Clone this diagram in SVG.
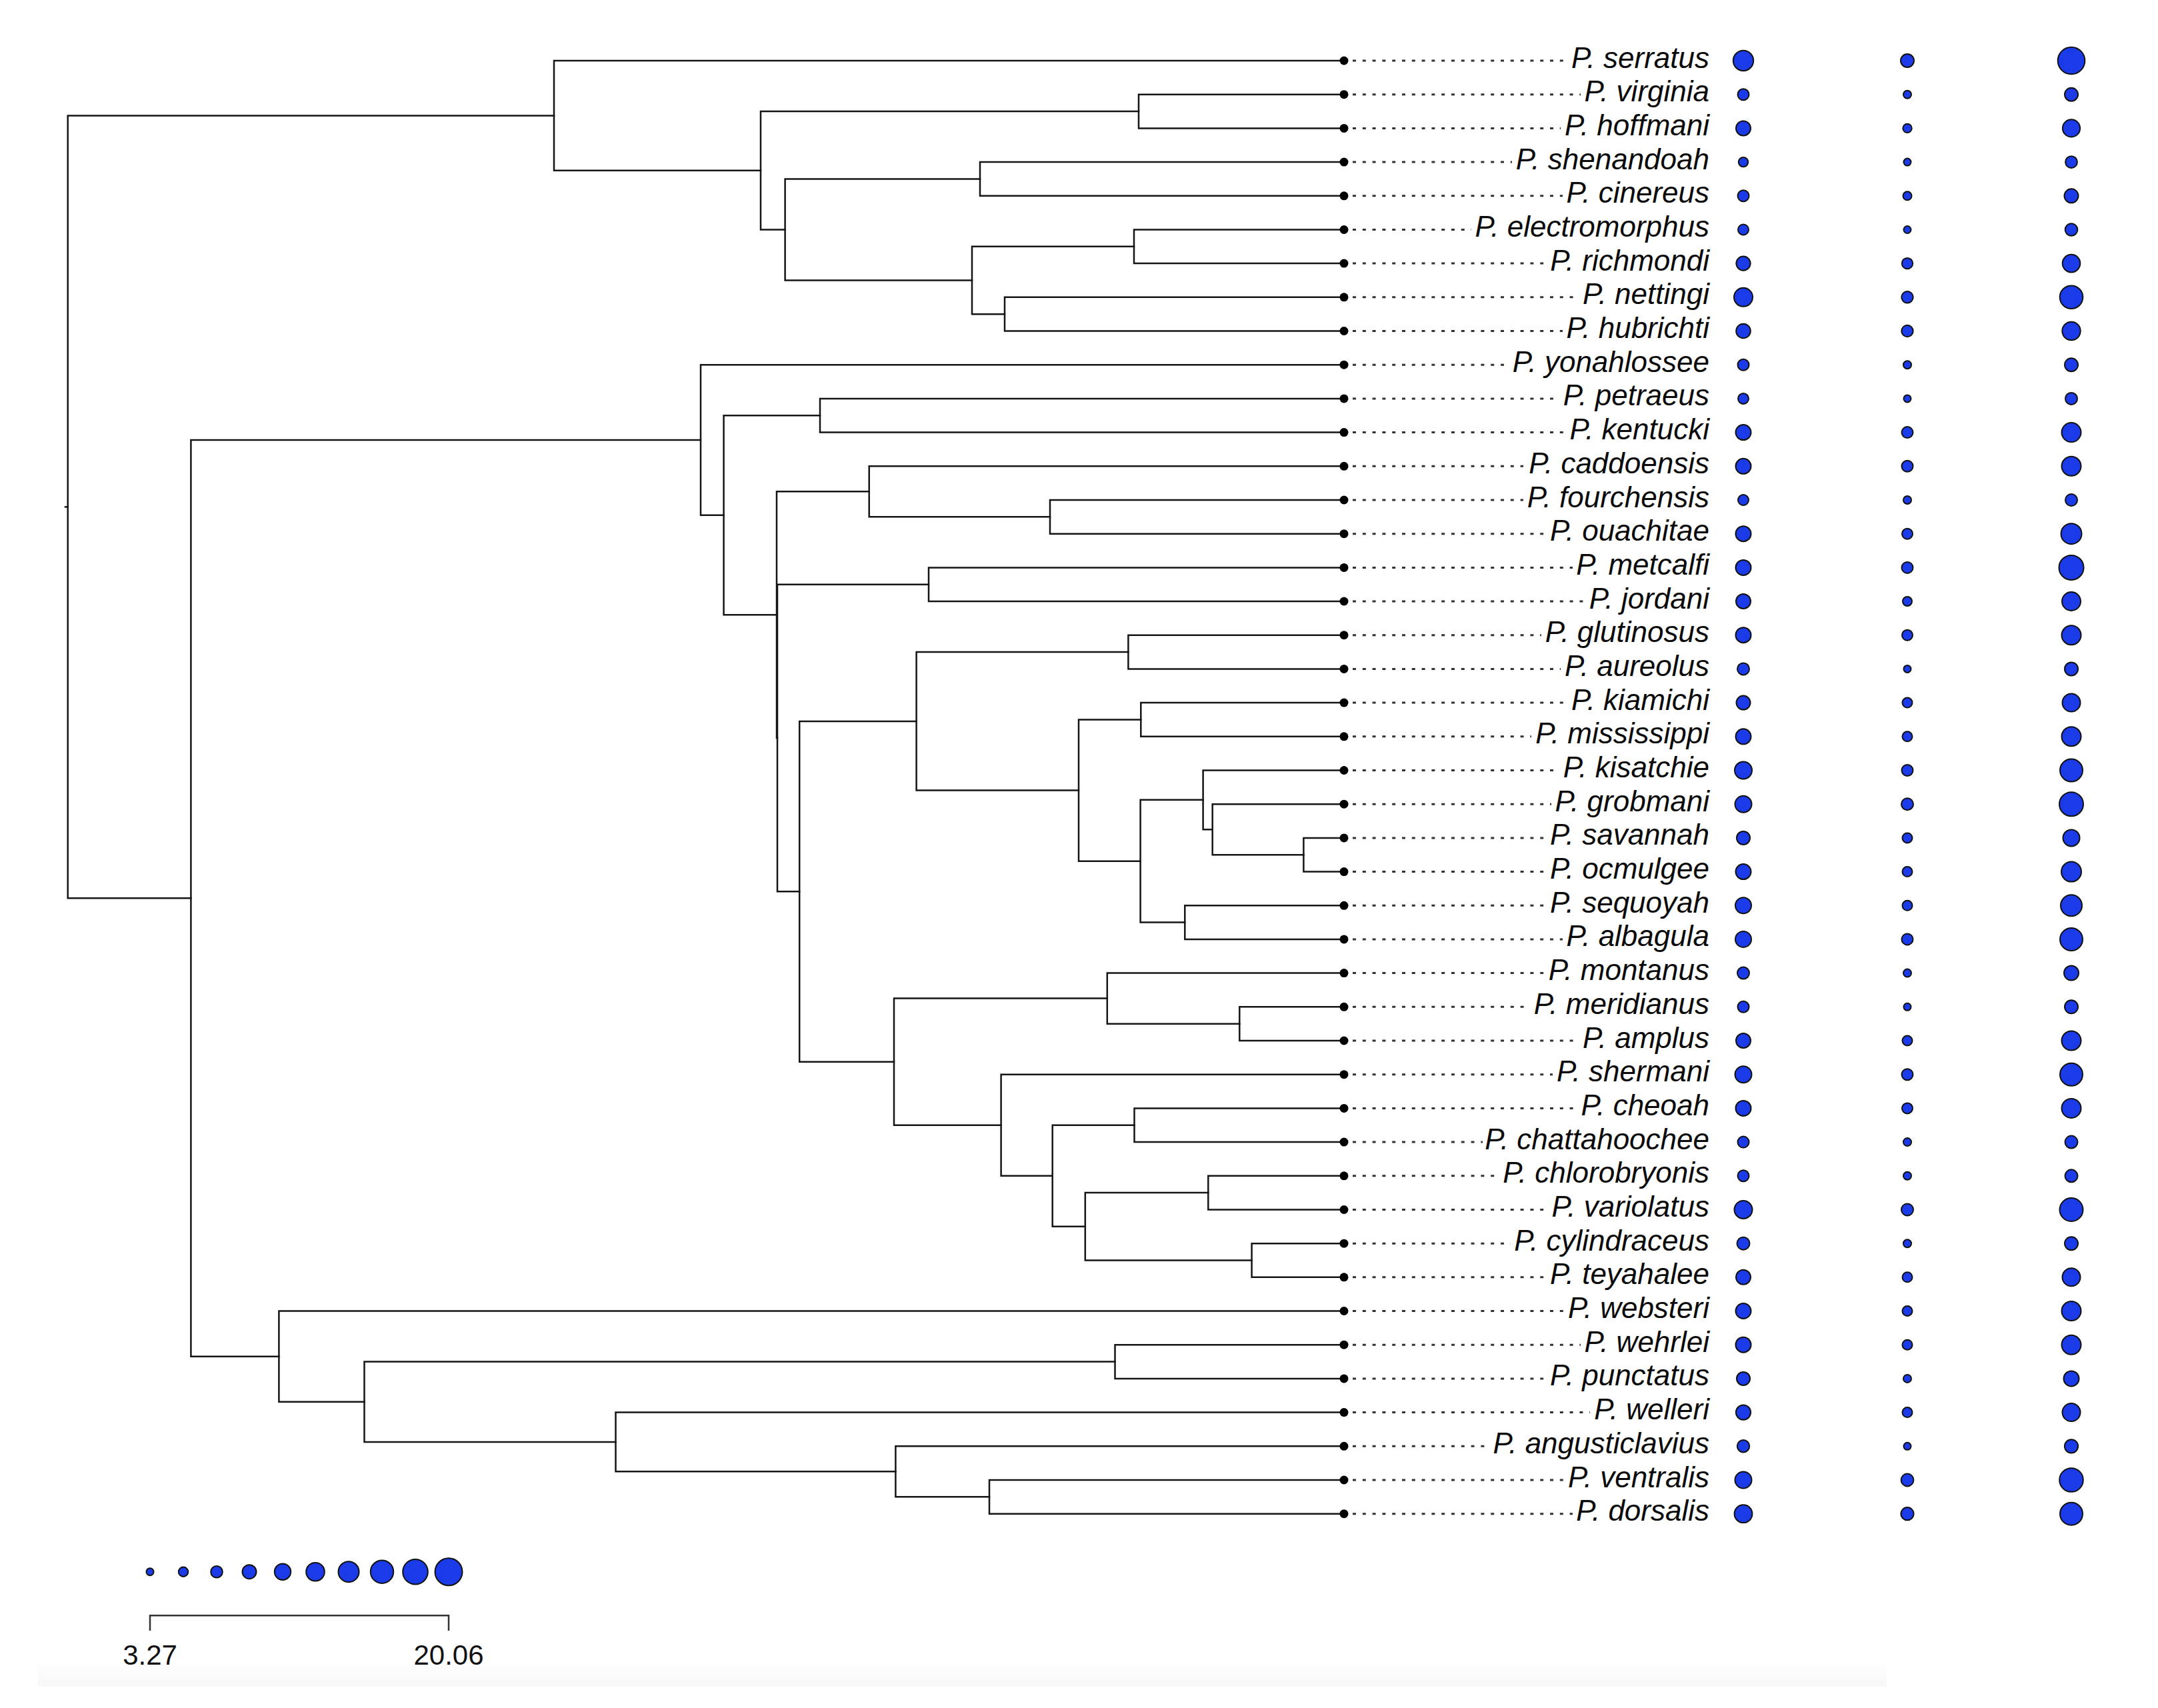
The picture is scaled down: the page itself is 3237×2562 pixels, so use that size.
<svg xmlns="http://www.w3.org/2000/svg" width="3237" height="2562" viewBox="0 0 3237 2562">
<style>
.br{fill:none;stroke:#151515;stroke-width:2.5;stroke-linecap:square}
.tip{fill:#000}
.lead{stroke:#333;stroke-width:3;stroke-dasharray:5 9.8}
.lab{font-family:"Liberation Sans",Arial,sans-serif;font-style:italic;font-size:44px;text-anchor:end;fill:#0a0a0a}
.dot{fill:#1c3be8;stroke:#111;stroke-width:2}
.sc{fill:none;stroke:#333;stroke-width:2.5}
.num{font-family:"Liberation Sans",Arial,sans-serif;font-size:42px;text-anchor:middle;fill:#111}
</style>
<defs>
<linearGradient id="band" x1="0" y1="0" x2="0" y2="1">
<stop offset="0" stop-color="#fdfdfd"/>
<stop offset="1" stop-color="#f8f8f8"/>
</linearGradient>
</defs>
<rect width="3237" height="2562" fill="#fff"/>
<rect x="57" y="2498" width="2773" height="32" fill="url(#band)"/>
<g id="connectors">
<path class="br" d="M98 760.4 H101.7"/>
<path class="br" d="M831 173.4 H101.7 V1347.3 H286.4"/>
<path class="br" d="M2016 91 H831 V255.7 H1141"/>
<path class="br" d="M1708 167 H1141 V344.4 H1177.6"/>
<path class="br" d="M2016 141.7 H1708 V192.4 H2016"/>
<path class="br" d="M1470 268.4 H1177.6 V420.5 H1458"/>
<path class="br" d="M2016 243.1 H1470 V293.8 H2016"/>
<path class="br" d="M1701 369.8 H1458 V471.2 H1507"/>
<path class="br" d="M2016 344.5 H1701 V395.1 H2016"/>
<path class="br" d="M2016 445.8 H1507 V496.5 H2016"/>
<path class="br" d="M1051 660 H286.4 V2034.7 H418.4"/>
<path class="br" d="M2016 547.2 H1051 V772.7 H1085.6"/>
<path class="br" d="M1230 623.2 H1085.6 V922.2 H1165"/>
<path class="br" d="M2016 597.9 H1230 V648.6 H2016"/>
<path class="br" d="M1303.7 737.3 H1165 V1107 H1166"/>
<path class="br" d="M2016 699.3 H1303.7 V775.3 H1575"/>
<path class="br" d="M2016 750 H1575 V800.7 H2016"/>
<path class="br" d="M1393 876.7 H1166 V1337.3 H1199.2"/>
<path class="br" d="M2016 851.4 H1393 V902 H2016"/>
<path class="br" d="M1374.6 1081.9 H1199.2 V1592.7 H1341"/>
<path class="br" d="M1692.4 978.1 H1374.6 V1185.6 H1618"/>
<path class="br" d="M2016 952.7 H1692.4 V1003.4 H2016"/>
<path class="br" d="M1711.3 1079.5 H1618 V1291.7 H1710.6"/>
<path class="br" d="M2016 1054.1 H1711.3 V1104.8 H2016"/>
<path class="br" d="M1804.6 1199.8 H1710.6 V1383.6 H1777.3"/>
<path class="br" d="M2016 1155.5 H1804.6 V1244.2 H1818.7"/>
<path class="br" d="M2016 1206.2 H1818.7 V1282.2 H1955.4"/>
<path class="br" d="M2016 1256.9 H1955.4 V1307.6 H2016"/>
<path class="br" d="M2016 1358.3 H1777.3 V1408.9 H2016"/>
<path class="br" d="M1660.8 1497.6 H1341 V1687.7 H1501.6"/>
<path class="br" d="M2016 1459.6 H1660.8 V1535.7 H1859.3"/>
<path class="br" d="M2016 1510.3 H1859.3 V1561 H2016"/>
<path class="br" d="M2016 1611.7 H1501.6 V1763.7 H1578.7"/>
<path class="br" d="M1701.5 1687.7 H1578.7 V1839.8 H1627.8"/>
<path class="br" d="M2016 1662.4 H1701.5 V1713.1 H2016"/>
<path class="br" d="M1812.3 1789.1 H1627.8 V1890.5 H1877.6"/>
<path class="br" d="M2016 1763.8 H1812.3 V1814.5 H2016"/>
<path class="br" d="M2016 1865.2 H1877.6 V1915.8 H2016"/>
<path class="br" d="M2016 1966.5 H418.4 V2102.8 H546.5"/>
<path class="br" d="M1672.5 2042.6 H546.5 V2163 H923.5"/>
<path class="br" d="M2016 2017.2 H1672.5 V2067.9 H2016"/>
<path class="br" d="M2016 2118.6 H923.5 V2207.3 H1343.4"/>
<path class="br" d="M2016 2169.3 H1343.4 V2245.3 H1484"/>
<path class="br" d="M2016 2220 H1484 V2270.7 H2016"/>
</g>
<g id="leaders">
<path class="lead" d="M2029 91 H2351"/>
<path class="lead" d="M2029 141.7 H2371"/>
<path class="lead" d="M2029 192.4 H2341"/>
<path class="lead" d="M2029 243.1 H2268"/>
<path class="lead" d="M2029 293.8 H2344"/>
<path class="lead" d="M2029 344.5 H2207"/>
<path class="lead" d="M2029 395.1 H2319"/>
<path class="lead" d="M2029 445.8 H2368"/>
<path class="lead" d="M2029 496.5 H2344"/>
<path class="lead" d="M2029 547.2 H2263"/>
<path class="lead" d="M2029 597.9 H2339"/>
<path class="lead" d="M2029 648.6 H2349"/>
<path class="lead" d="M2029 699.3 H2285"/>
<path class="lead" d="M2029 750 H2285"/>
<path class="lead" d="M2029 800.7 H2319"/>
<path class="lead" d="M2029 851.4 H2359"/>
<path class="lead" d="M2029 902 H2378"/>
<path class="lead" d="M2029 952.7 H2312"/>
<path class="lead" d="M2029 1003.4 H2341"/>
<path class="lead" d="M2029 1054.1 H2351"/>
<path class="lead" d="M2029 1104.8 H2297"/>
<path class="lead" d="M2029 1155.5 H2339"/>
<path class="lead" d="M2029 1206.2 H2327"/>
<path class="lead" d="M2029 1256.9 H2319"/>
<path class="lead" d="M2029 1307.6 H2319"/>
<path class="lead" d="M2029 1358.3 H2319"/>
<path class="lead" d="M2029 1408.9 H2344"/>
<path class="lead" d="M2029 1459.6 H2317"/>
<path class="lead" d="M2029 1510.3 H2295"/>
<path class="lead" d="M2029 1561 H2368"/>
<path class="lead" d="M2029 1611.7 H2329"/>
<path class="lead" d="M2029 1662.4 H2366"/>
<path class="lead" d="M2029 1713.1 H2224"/>
<path class="lead" d="M2029 1763.8 H2249"/>
<path class="lead" d="M2029 1814.5 H2322"/>
<path class="lead" d="M2029 1865.2 H2266"/>
<path class="lead" d="M2029 1915.8 H2319"/>
<path class="lead" d="M2029 1966.5 H2346"/>
<path class="lead" d="M2029 2017.2 H2371"/>
<path class="lead" d="M2029 2067.9 H2319"/>
<path class="lead" d="M2029 2118.6 H2385"/>
<path class="lead" d="M2029 2169.3 H2234"/>
<path class="lead" d="M2029 2220 H2346"/>
<path class="lead" d="M2029 2270.7 H2359"/>
</g>
<g id="taxa">
<g id="t-serratus"><circle class="tip" cx="2016" cy="91" r="6.5"/><text class="lab" x="2564" y="101.5">P. serratus</text><circle class="dot" cx="2615" cy="91" r="15.2"/><circle class="dot" cx="2861" cy="91" r="10"/><circle class="dot" cx="3107" cy="91" r="20.3"/></g>
<g id="t-virginia"><circle class="tip" cx="2016" cy="141.7" r="6.5"/><text class="lab" x="2564" y="152.2">P. virginia</text><circle class="dot" cx="2615" cy="141.7" r="8.5"/><circle class="dot" cx="2861" cy="141.7" r="6"/><circle class="dot" cx="3107" cy="141.7" r="10"/></g>
<g id="t-hoffmani"><circle class="tip" cx="2016" cy="192.4" r="6.5"/><text class="lab" x="2564" y="202.9">P. hoffmani</text><circle class="dot" cx="2615" cy="192.4" r="11"/><circle class="dot" cx="2861" cy="192.4" r="6.7"/><circle class="dot" cx="3107" cy="192.4" r="13.1"/></g>
<g id="t-shenandoah"><circle class="tip" cx="2016" cy="243.1" r="6.5"/><text class="lab" x="2564" y="253.6">P. shenandoah</text><circle class="dot" cx="2615" cy="243.1" r="7.2"/><circle class="dot" cx="2861" cy="243.1" r="5.5"/><circle class="dot" cx="3107" cy="243.1" r="8.9"/></g>
<g id="t-cinereus"><circle class="tip" cx="2016" cy="293.8" r="6.5"/><text class="lab" x="2564" y="304.3">P. cinereus</text><circle class="dot" cx="2615" cy="293.8" r="8.5"/><circle class="dot" cx="2861" cy="293.8" r="6.5"/><circle class="dot" cx="3107" cy="293.8" r="10.5"/></g>
<g id="t-electromorphus"><circle class="tip" cx="2016" cy="344.5" r="6.5"/><text class="lab" x="2564" y="355">P. electromorphus</text><circle class="dot" cx="2615" cy="344.5" r="8"/><circle class="dot" cx="2861" cy="344.5" r="5.5"/><circle class="dot" cx="3107" cy="344.5" r="9.3"/></g>
<g id="t-richmondi"><circle class="tip" cx="2016" cy="395.1" r="6.5"/><text class="lab" x="2564" y="405.6">P. richmondi</text><circle class="dot" cx="2615" cy="395.1" r="10.6"/><circle class="dot" cx="2861" cy="395.1" r="8.2"/><circle class="dot" cx="3107" cy="395.1" r="13.3"/></g>
<g id="t-nettingi"><circle class="tip" cx="2016" cy="445.8" r="6.5"/><text class="lab" x="2564" y="456.3">P. nettingi</text><circle class="dot" cx="2615" cy="445.8" r="14"/><circle class="dot" cx="2861" cy="445.8" r="8.7"/><circle class="dot" cx="3107" cy="445.8" r="17.3"/></g>
<g id="t-hubrichti"><circle class="tip" cx="2016" cy="496.5" r="6.5"/><text class="lab" x="2564" y="507">P. hubrichti</text><circle class="dot" cx="2615" cy="496.5" r="10.8"/><circle class="dot" cx="2861" cy="496.5" r="8.7"/><circle class="dot" cx="3107" cy="496.5" r="13.7"/></g>
<g id="t-yonahlossee"><circle class="tip" cx="2016" cy="547.2" r="6.5"/><text class="lab" x="2564" y="557.7">P. yonahlossee</text><circle class="dot" cx="2615" cy="547.2" r="8.5"/><circle class="dot" cx="2861" cy="547.2" r="6"/><circle class="dot" cx="3107" cy="547.2" r="10"/></g>
<g id="t-petraeus"><circle class="tip" cx="2016" cy="597.9" r="6.5"/><text class="lab" x="2564" y="608.4">P. petraeus</text><circle class="dot" cx="2615" cy="597.9" r="8"/><circle class="dot" cx="2861" cy="597.9" r="5.5"/><circle class="dot" cx="3107" cy="597.9" r="9"/></g>
<g id="t-kentucki"><circle class="tip" cx="2016" cy="648.6" r="6.5"/><text class="lab" x="2564" y="659.1">P. kentucki</text><circle class="dot" cx="2615" cy="648.6" r="11.5"/><circle class="dot" cx="2861" cy="648.6" r="8.5"/><circle class="dot" cx="3107" cy="648.6" r="14.5"/></g>
<g id="t-caddoensis"><circle class="tip" cx="2016" cy="699.3" r="6.5"/><text class="lab" x="2564" y="709.8">P. caddoensis</text><circle class="dot" cx="2615" cy="699.3" r="11.5"/><circle class="dot" cx="2861" cy="699.3" r="8.5"/><circle class="dot" cx="3107" cy="699.3" r="14.5"/></g>
<g id="t-fourchensis"><circle class="tip" cx="2016" cy="750" r="6.5"/><text class="lab" x="2564" y="760.5">P. fourchensis</text><circle class="dot" cx="2615" cy="750" r="8"/><circle class="dot" cx="2861" cy="750" r="6"/><circle class="dot" cx="3107" cy="750" r="9"/></g>
<g id="t-ouachitae"><circle class="tip" cx="2016" cy="800.7" r="6.5"/><text class="lab" x="2564" y="811.2">P. ouachitae</text><circle class="dot" cx="2615" cy="800.7" r="11.5"/><circle class="dot" cx="2861" cy="800.7" r="8"/><circle class="dot" cx="3107" cy="800.7" r="15.5"/></g>
<g id="t-metcalfi"><circle class="tip" cx="2016" cy="851.4" r="6.5"/><text class="lab" x="2564" y="861.9">P. metcalfi</text><circle class="dot" cx="2615" cy="851.4" r="11.5"/><circle class="dot" cx="2861" cy="851.4" r="8.5"/><circle class="dot" cx="3107" cy="851.4" r="18.5"/></g>
<g id="t-jordani"><circle class="tip" cx="2016" cy="902" r="6.5"/><text class="lab" x="2564" y="912.5">P. jordani</text><circle class="dot" cx="2615" cy="902" r="11"/><circle class="dot" cx="2861" cy="902" r="7"/><circle class="dot" cx="3107" cy="902" r="14"/></g>
<g id="t-glutinosus"><circle class="tip" cx="2016" cy="952.7" r="6.5"/><text class="lab" x="2564" y="963.2">P. glutinosus</text><circle class="dot" cx="2615" cy="952.7" r="11.5"/><circle class="dot" cx="2861" cy="952.7" r="8"/><circle class="dot" cx="3107" cy="952.7" r="14.5"/></g>
<g id="t-aureolus"><circle class="tip" cx="2016" cy="1003.4" r="6.5"/><text class="lab" x="2564" y="1013.9">P. aureolus</text><circle class="dot" cx="2615" cy="1003.4" r="9"/><circle class="dot" cx="2861" cy="1003.4" r="5.5"/><circle class="dot" cx="3107" cy="1003.4" r="10"/></g>
<g id="t-kiamichi"><circle class="tip" cx="2016" cy="1054.1" r="6.5"/><text class="lab" x="2564" y="1064.6">P. kiamichi</text><circle class="dot" cx="2615" cy="1054.1" r="10.5"/><circle class="dot" cx="2861" cy="1054.1" r="7.5"/><circle class="dot" cx="3107" cy="1054.1" r="13.5"/></g>
<g id="t-mississippi"><circle class="tip" cx="2016" cy="1104.8" r="6.5"/><text class="lab" x="2564" y="1115.3">P. mississippi</text><circle class="dot" cx="2615" cy="1104.8" r="11.5"/><circle class="dot" cx="2861" cy="1104.8" r="7.5"/><circle class="dot" cx="3107" cy="1104.8" r="14.5"/></g>
<g id="t-kisatchie"><circle class="tip" cx="2016" cy="1155.5" r="6.5"/><text class="lab" x="2564" y="1166">P. kisatchie</text><circle class="dot" cx="2615" cy="1155.5" r="13"/><circle class="dot" cx="2861" cy="1155.5" r="8.5"/><circle class="dot" cx="3107" cy="1155.5" r="17"/></g>
<g id="t-grobmani"><circle class="tip" cx="2016" cy="1206.2" r="6.5"/><text class="lab" x="2564" y="1216.7">P. grobmani</text><circle class="dot" cx="2615" cy="1206.2" r="12.5"/><circle class="dot" cx="2861" cy="1206.2" r="9"/><circle class="dot" cx="3107" cy="1206.2" r="18"/></g>
<g id="t-savannah"><circle class="tip" cx="2016" cy="1256.9" r="6.5"/><text class="lab" x="2564" y="1267.4">P. savannah</text><circle class="dot" cx="2615" cy="1256.9" r="10"/><circle class="dot" cx="2861" cy="1256.9" r="7.5"/><circle class="dot" cx="3107" cy="1256.9" r="12.5"/></g>
<g id="t-ocmulgee"><circle class="tip" cx="2016" cy="1307.6" r="6.5"/><text class="lab" x="2564" y="1318.1">P. ocmulgee</text><circle class="dot" cx="2615" cy="1307.6" r="11.5"/><circle class="dot" cx="2861" cy="1307.6" r="7.5"/><circle class="dot" cx="3107" cy="1307.6" r="15"/></g>
<g id="t-sequoyah"><circle class="tip" cx="2016" cy="1358.3" r="6.5"/><text class="lab" x="2564" y="1368.8">P. sequoyah</text><circle class="dot" cx="2615" cy="1358.3" r="12"/><circle class="dot" cx="2861" cy="1358.3" r="7.5"/><circle class="dot" cx="3107" cy="1358.3" r="16"/></g>
<g id="t-albagula"><circle class="tip" cx="2016" cy="1408.9" r="6.5"/><text class="lab" x="2564" y="1419.4">P. albagula</text><circle class="dot" cx="2615" cy="1408.9" r="12"/><circle class="dot" cx="2861" cy="1408.9" r="8.5"/><circle class="dot" cx="3107" cy="1408.9" r="17"/></g>
<g id="t-montanus"><circle class="tip" cx="2016" cy="1459.6" r="6.5"/><text class="lab" x="2564" y="1470.1">P. montanus</text><circle class="dot" cx="2615" cy="1459.6" r="9"/><circle class="dot" cx="2861" cy="1459.6" r="6"/><circle class="dot" cx="3107" cy="1459.6" r="11"/></g>
<g id="t-meridianus"><circle class="tip" cx="2016" cy="1510.3" r="6.5"/><text class="lab" x="2564" y="1520.8">P. meridianus</text><circle class="dot" cx="2615" cy="1510.3" r="8.5"/><circle class="dot" cx="2861" cy="1510.3" r="5.5"/><circle class="dot" cx="3107" cy="1510.3" r="10"/></g>
<g id="t-amplus"><circle class="tip" cx="2016" cy="1561" r="6.5"/><text class="lab" x="2564" y="1571.5">P. amplus</text><circle class="dot" cx="2615" cy="1561" r="11"/><circle class="dot" cx="2861" cy="1561" r="7.5"/><circle class="dot" cx="3107" cy="1561" r="14.5"/></g>
<g id="t-shermani"><circle class="tip" cx="2016" cy="1611.7" r="6.5"/><text class="lab" x="2564" y="1622.2">P. shermani</text><circle class="dot" cx="2615" cy="1611.7" r="12.5"/><circle class="dot" cx="2861" cy="1611.7" r="8.5"/><circle class="dot" cx="3107" cy="1611.7" r="17"/></g>
<g id="t-cheoah"><circle class="tip" cx="2016" cy="1662.4" r="6.5"/><text class="lab" x="2564" y="1672.9">P. cheoah</text><circle class="dot" cx="2615" cy="1662.4" r="11.5"/><circle class="dot" cx="2861" cy="1662.4" r="8"/><circle class="dot" cx="3107" cy="1662.4" r="14.5"/></g>
<g id="t-chattahoochee"><circle class="tip" cx="2016" cy="1713.1" r="6.5"/><text class="lab" x="2564" y="1723.6">P. chattahoochee</text><circle class="dot" cx="2615" cy="1713.1" r="8.5"/><circle class="dot" cx="2861" cy="1713.1" r="6"/><circle class="dot" cx="3107" cy="1713.1" r="9.5"/></g>
<g id="t-chlorobryonis"><circle class="tip" cx="2016" cy="1763.8" r="6.5"/><text class="lab" x="2564" y="1774.3">P. chlorobryonis</text><circle class="dot" cx="2615" cy="1763.8" r="8.5"/><circle class="dot" cx="2861" cy="1763.8" r="6"/><circle class="dot" cx="3107" cy="1763.8" r="9.5"/></g>
<g id="t-variolatus"><circle class="tip" cx="2016" cy="1814.5" r="6.5"/><text class="lab" x="2564" y="1825">P. variolatus</text><circle class="dot" cx="2615" cy="1814.5" r="13.5"/><circle class="dot" cx="2861" cy="1814.5" r="9"/><circle class="dot" cx="3107" cy="1814.5" r="17.5"/></g>
<g id="t-cylindraceus"><circle class="tip" cx="2016" cy="1865.2" r="6.5"/><text class="lab" x="2564" y="1875.7">P. cylindraceus</text><circle class="dot" cx="2615" cy="1865.2" r="9.5"/><circle class="dot" cx="2861" cy="1865.2" r="6"/><circle class="dot" cx="3107" cy="1865.2" r="10"/></g>
<g id="t-teyahalee"><circle class="tip" cx="2016" cy="1915.8" r="6.5"/><text class="lab" x="2564" y="1926.3">P. teyahalee</text><circle class="dot" cx="2615" cy="1915.8" r="11"/><circle class="dot" cx="2861" cy="1915.8" r="7.5"/><circle class="dot" cx="3107" cy="1915.8" r="13.5"/></g>
<g id="t-websteri"><circle class="tip" cx="2016" cy="1966.5" r="6.5"/><text class="lab" x="2564" y="1977">P. websteri</text><circle class="dot" cx="2615" cy="1966.5" r="11.5"/><circle class="dot" cx="2861" cy="1966.5" r="7.5"/><circle class="dot" cx="3107" cy="1966.5" r="14.5"/></g>
<g id="t-wehrlei"><circle class="tip" cx="2016" cy="2017.2" r="6.5"/><text class="lab" x="2564" y="2027.7">P. wehrlei</text><circle class="dot" cx="2615" cy="2017.2" r="11.5"/><circle class="dot" cx="2861" cy="2017.2" r="7.5"/><circle class="dot" cx="3107" cy="2017.2" r="14.5"/></g>
<g id="t-punctatus"><circle class="tip" cx="2016" cy="2067.9" r="6.5"/><text class="lab" x="2564" y="2078.4">P. punctatus</text><circle class="dot" cx="2615" cy="2067.9" r="10"/><circle class="dot" cx="2861" cy="2067.9" r="6"/><circle class="dot" cx="3107" cy="2067.9" r="11.5"/></g>
<g id="t-welleri"><circle class="tip" cx="2016" cy="2118.6" r="6.5"/><text class="lab" x="2564" y="2129.1">P. welleri</text><circle class="dot" cx="2615" cy="2118.6" r="11.1"/><circle class="dot" cx="2861" cy="2118.6" r="7.5"/><circle class="dot" cx="3107" cy="2118.6" r="13.5"/></g>
<g id="t-angusticlavius"><circle class="tip" cx="2016" cy="2169.3" r="6.5"/><text class="lab" x="2564" y="2179.8">P. angusticlavius</text><circle class="dot" cx="2615" cy="2169.3" r="9.2"/><circle class="dot" cx="2861" cy="2169.3" r="5.5"/><circle class="dot" cx="3107" cy="2169.3" r="10.1"/></g>
<g id="t-ventralis"><circle class="tip" cx="2016" cy="2220" r="6.5"/><text class="lab" x="2564" y="2230.5">P. ventralis</text><circle class="dot" cx="2615" cy="2220" r="12.5"/><circle class="dot" cx="2861" cy="2220" r="9.4"/><circle class="dot" cx="3107" cy="2220" r="17.8"/></g>
<g id="t-dorsalis"><circle class="tip" cx="2016" cy="2270.7" r="6.5"/><text class="lab" x="2564" y="2281.2">P. dorsalis</text><circle class="dot" cx="2615" cy="2270.7" r="13.4"/><circle class="dot" cx="2861" cy="2270.7" r="9.6"/><circle class="dot" cx="3107" cy="2270.7" r="17"/></g>
</g>
<g id="legend">
<circle class="dot" cx="225" cy="2357.7" r="5.5"/>
<circle class="dot" cx="275" cy="2357.7" r="7.2"/>
<circle class="dot" cx="325" cy="2357.7" r="8.8"/>
<circle class="dot" cx="374" cy="2357.7" r="10.5"/>
<circle class="dot" cx="424" cy="2357.7" r="12.2"/>
<circle class="dot" cx="473" cy="2357.7" r="13.8"/>
<circle class="dot" cx="523" cy="2357.7" r="15.5"/>
<circle class="dot" cx="573" cy="2357.7" r="17.2"/>
<circle class="dot" cx="623" cy="2357.7" r="18.8"/>
<circle class="dot" cx="673" cy="2357.7" r="20.5"/>
<path class="sc" d="M225 2446 V2423.3 H673 V2446"/>
<text class="num" x="225" y="2497">3.27</text>
<text class="num" x="673" y="2497">20.06</text>
</g>
</svg>
